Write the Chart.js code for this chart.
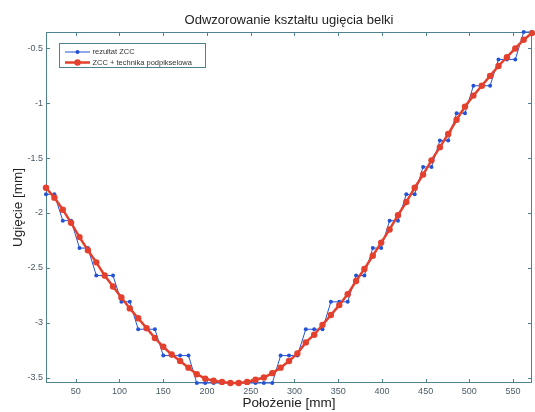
<!DOCTYPE html>
<html>
<head>
<meta charset="utf-8">
<script src="https://cdn.jsdelivr.net/npm/chart.js@4/dist/chart.umd.min.js"></script>
<style>
html,body{margin:0;padding:0;background:#fff;}
#wrap{width:535px;height:412px;position:relative;}
canvas{display:block;}
</style>
</head>
<body>
<div id="wrap"><canvas id="c" width="535" height="412"></canvas></div>
<script>
// ---- data ----
const positionsMm = [16.0,25.6,35.2,44.7,54.3,63.9,73.5,83.1,92.6,102.2,111.8,121.4,131.0,140.5,150.1,159.7,169.3,178.9,188.4,198.0,207.6,217.2,226.8,236.3,245.9,255.5,265.1,274.7,284.2,293.8,303.4,313.0,322.6,332.1,341.7,351.3,360.9,370.5,380.0,389.6,399.2,408.8,418.4,427.9,437.5,447.1,456.7,466.3,475.8,485.4,495.0,504.6,514.2,523.7,533.3,542.9,552.5,562.1,571.6];
const zccResult = [-1.83,-1.83,-2.07,-2.07,-2.32,-2.32,-2.57,-2.57,-2.57,-2.81,-2.81,-3.06,-3.06,-3.06,-3.30,-3.30,-3.30,-3.30,-3.55,-3.55,-3.55,-3.55,-3.55,-3.55,-3.55,-3.55,-3.55,-3.55,-3.30,-3.30,-3.30,-3.06,-3.06,-3.06,-2.81,-2.81,-2.81,-2.57,-2.57,-2.32,-2.32,-2.07,-2.07,-1.83,-1.83,-1.58,-1.58,-1.34,-1.34,-1.09,-1.09,-0.84,-0.84,-0.84,-0.60,-0.60,-0.60,-0.35,-0.35];
const zccSubpixel = [-1.77,-1.86,-1.97,-2.09,-2.22,-2.34,-2.45,-2.57,-2.67,-2.77,-2.87,-2.96,-3.05,-3.14,-3.22,-3.29,-3.35,-3.41,-3.47,-3.51,-3.53,-3.54,-3.55,-3.55,-3.54,-3.52,-3.50,-3.46,-3.41,-3.35,-3.28,-3.18,-3.11,-3.02,-2.93,-2.84,-2.74,-2.62,-2.51,-2.39,-2.27,-2.15,-2.02,-1.90,-1.77,-1.65,-1.52,-1.40,-1.28,-1.15,-1.03,-0.93,-0.84,-0.75,-0.66,-0.58,-0.50,-0.42,-0.36];
const xTicks = [50,100,150,200,250,300,350,400,450,500,550];
const yTicks = [-3.5,-3,-2.5,-2,-1.5,-1,-0.5];
const seriesNames = ['rezultat ZCC','ZCC + technika podpikselowa'];
const chartTitle = 'Odwzorowanie kształtu ugięcia belki';
const xTitle = 'Położenie [mm]';
const yTitle = 'Ugięcie [mm]';

const AXIS = '#4f8291';
const LABEL = '#4a5a66';
const BLUE = '#2352d6';
const RED = '#e3412d';
const FONT = '"Liberation Sans", Arial, sans-serif';

function toPoints(xs, ys){ return xs.map((x,i)=>({x:x, y:ys[i]})); }

const decor = {
  id:'decor',
  beforeDatasetsDraw(chart){
    const {ctx, chartArea:a} = chart;
    ctx.save();
    ctx.strokeStyle = AXIS; ctx.lineWidth = 1;
    ctx.strokeRect(Math.round(a.left)+0.5, Math.round(a.top)+0.5, Math.round(a.right-a.left)-1, Math.round(a.bottom-a.top)-1);
    const xs = chart.scales.x, ys = chart.scales.y, L = 4;
    ctx.beginPath();
    xTicks.forEach(v=>{
      const p = Math.round(xs.getPixelForValue(v))+0.5;
      ctx.moveTo(p, a.bottom); ctx.lineTo(p, a.bottom-L);
      ctx.moveTo(p, a.top); ctx.lineTo(p, a.top+L);
    });
    yTicks.forEach(v=>{
      const p = Math.round(ys.getPixelForValue(v))+0.5;
      ctx.moveTo(a.left, p); ctx.lineTo(a.left+L, p);
      ctx.moveTo(a.right, p); ctx.lineTo(a.right-L, p);
    });
    ctx.stroke();
    ctx.restore();
  },
  afterDraw(chart){
    const {ctx, chartArea:a} = chart;
    ctx.save();
    ctx.fillStyle = '#222';
    ctx.font = '13px ' + FONT;
    ctx.textAlign = 'center'; ctx.textBaseline = 'middle';
    ctx.fillText(chartTitle, (a.left+a.right)/2, 20);
    ctx.font = '13.5px ' + FONT;
    ctx.fillText(xTitle, (a.left+a.right)/2, 403);
    ctx.translate(18, (a.top+a.bottom)/2);
    ctx.rotate(-Math.PI/2);
    ctx.fillText(yTitle, 0, 0);
    ctx.restore();

    ctx.save();
    const bx = 59.5, by = 43.5, bw = 146, bh = 24;
    ctx.fillStyle = '#fff';
    ctx.fillRect(bx, by, bw, bh);
    ctx.strokeStyle = AXIS; ctx.lineWidth = 1;
    ctx.strokeRect(bx, by, bw, bh);
    const rows = [52, 62.5];
    chart.data.datasets.forEach((ds, i)=>{
      const y = rows[i];
      ctx.strokeStyle = ds.borderColor; ctx.lineWidth = ds.borderWidth;
      ctx.beginPath(); ctx.moveTo(65, y); ctx.lineTo(90, y); ctx.stroke();
      ctx.fillStyle = ds.pointBackgroundColor;
      ctx.beginPath(); ctx.arc(77.5, y, ds.pointRadius, 0, Math.PI*2); ctx.fill();
      ctx.fillStyle = '#333';
      ctx.font = '7.5px ' + FONT;
      ctx.textAlign = 'left'; ctx.textBaseline = 'middle';
      ctx.fillText(ds.label, 92.5, y);
    });
    ctx.restore();
  }
};

new Chart(document.getElementById('c'), {
  type:'scatter',
  data:{
    datasets:[
      {label:seriesNames[0], data:toPoints(positionsMm, zccResult), showLine:true,
       borderColor:BLUE, backgroundColor:BLUE, borderWidth:1,
       pointRadius:2, pointBackgroundColor:BLUE, pointBorderWidth:0, order:1, clip:false},
      {label:seriesNames[1], data:toPoints(positionsMm, zccSubpixel), showLine:true,
       borderColor:RED, backgroundColor:RED, borderWidth:2.5,
       pointRadius:3.2, pointBackgroundColor:RED, pointBorderWidth:0, order:0, clip:false}
    ]
  },
  options:{
    responsive:false, animation:false, devicePixelRatio:1,
    layout:{padding:{left:0,right:3,top:32,bottom:0}, autoPadding:false},
    plugins:{legend:{display:false}, title:{display:false}, tooltip:{enabled:false}},
    scales:{
      x:{type:'linear', min:positionsMm[0], max:positionsMm[positionsMm.length-1],
         afterFit(s){ s.height = 29; },
         afterBuildTicks(s){ s.ticks = xTicks.map(v=>({value:v})); },
         grid:{display:false, drawTicks:false},
         border:{display:false},
         ticks:{padding:3, color:LABEL, font:{family:FONT, size:9}, maxRotation:0, autoSkip:false,
                callback:v=>String(v)}},
      y:{type:'linear', min:-3.55, max:-0.35,
         afterFit(s){ s.width = 46; },
         afterBuildTicks(s){ s.ticks = yTicks.map(v=>({value:v})); },
         grid:{display:false, drawTicks:false},
         border:{display:false},
         ticks:{padding:3, color:LABEL, font:{family:FONT, size:9}, autoSkip:false,
                callback:v=>String(v)}}
    }
  },
  plugins:[decor]
});
</script>
</body>
</html>
